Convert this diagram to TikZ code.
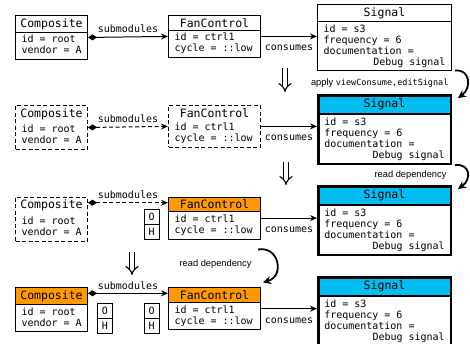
\documentclass[tikz,border=0pt]{standalone}
\usepackage{fontspec}
\setmonofont{DejaVu Sans Mono}
\setsansfont{Liberation Sans}
\usepackage{tikz}
\usetikzlibrary{positioning}
\usetikzlibrary{shapes.multipart}
\usetikzlibrary{arrows.meta}
\definecolor{hotorange}{RGB}{255,153,0}
\definecolor{sigcyan}{RGB}{0,190,240}
\newcommand\monobody{\ttfamily\fontsize{10}{11}\selectfont}
\newcommand\gap{\hspace*{6.02pt}}
\newcommand\boxtitle[1]{\makebox[\linewidth]{\fontsize{11.5}{12}\selectfont #1}}
\newcommand\bodyend{\rule[-2.6pt]{0pt}{2.6pt}}
\newcommand\sigbody{id\gap=\gap s3\\frequency\gap=\gap 6\\documentation\gap=\\\makebox[\linewidth][r]{Debug\gap signal}}
\newcommand\compbody{id\gap=\gap root\\vendor\gap=\gap A\bodyend}
\newcommand\fanbody{id\gap=\gap ctrl1\\cycle\gap=\gap ::low\bodyend}
\begin{document}
\begin{tikzpicture}[x=1pt, y=-1pt,
            classbox/.style={rectangle split, rectangle split parts=2, draw, line width=1pt,
                             inner xsep=6pt, inner ysep=2.4pt, anchor=north west, font=\monobody},
            ghostbox/.style={classbox, dash pattern=on 4pt off 2.5pt, rectangle split draw splits=false},
            hotbox/.style={classbox, rectangle split part fill={hotorange,white}},
            sigbox/.style={classbox, line width=2.5pt, rectangle split part fill={sigcyan,white}},
            flag/.style={draw, line width=1pt, minimum width=15.5pt, minimum height=15pt,
                         inner sep=0pt, font=\monobody},
            lbl/.style={font=\monobody},
            note/.style={font=\sffamily\fontsize{9.3}{10}\selectfont},
            owns/.style={{Diamond[length=9pt,width=6pt]}-{Stealth[length=7pt,width=6pt]}, line width=1pt},
            uses/.style={-{Stealth[length=7pt,width=6pt]}, line width=1pt},
            hop/.style={line width=1.8pt, -{Stealth[length=8pt,width=8pt]}},
            nextstate/.style={double, double distance=3.5pt, line width=1.1pt, -{Implies}}
        ]
        \useasboundingbox (0,0) rectangle (470,343);

        \node[classbox, text width=60pt] (comp1) at (15,15) {\boxtitle{Composite}\nodepart{two}\compbody};
        \node[classbox, text width=80pt] (fan1) at (168,15) {\boxtitle{FanControl}\nodepart{two}\fanbody};
        \node[classbox, text width=122pt] (sig1) at (317,4) {\boxtitle{Signal}\nodepart{two}\sigbody};
        \draw[owns] (comp1.east) -- node[lbl, above] {submodules} (fan1.west);
        \draw[uses] (fan1.east) -- node[lbl, below=5pt] {consumes} (fan1.east -| sig1.west);

        \node[ghostbox, text width=60pt] (comp2) at (15,105) {\boxtitle{Composite}\nodepart{two}\compbody};
        \node[ghostbox, text width=80pt] (fan2) at (168,105) {\boxtitle{FanControl}\nodepart{two}\fanbody};
        \node[sigbox, text width=120.5pt] (sig2) at (317,94) {\boxtitle{Signal}\nodepart{two}\sigbody};
        \draw[owns, dash pattern=on 4pt off 2.5pt] (comp2.east) -- node[lbl, above] {submodules} (fan2.west);
        \draw[uses] (fan2.east) -- node[lbl, below=5pt] {consumes} (fan2.east -| sig2.west);

        \node[ghostbox, text width=60pt] (comp3) at (15,196.7) {\boxtitle{Composite}\nodepart{two}\compbody};
        \node[hotbox, text width=80pt] (fan3) at (168,196.7) {\boxtitle{FanControl}\nodepart{two}\fanbody};
        \node[sigbox, text width=120.5pt] (sig3) at (317,185) {\boxtitle{Signal}\nodepart{two}\sigbody};
        \node[flag, anchor=north east] (o3) at ([xshift=-8pt, yshift=-12.6pt]fan3.north west) {O};
        \node[flag, below=-1pt of o3] (h3) {H};
        \draw[owns, dash pattern=on 4pt off 2.5pt] ([yshift=-6pt]comp3.north east) -- node[lbl, above] {submodules} ([yshift=-6pt]fan3.north west);
        \draw[uses] (fan3.east) -- node[lbl, below=5pt] {consumes} (fan3.east -| sig3.west);

        \node[hotbox, text width=60pt] (comp4) at (15,287.3) {\boxtitle{Composite}\nodepart{two}\compbody};
        \node[hotbox, text width=80pt] (fan4) at (168,287.3) {\boxtitle{FanControl}\nodepart{two}\fanbody};
        \node[sigbox, text width=120.5pt] (sig4) at (317,276) {\boxtitle{Signal}\nodepart{two}\sigbody};
        \node[flag, anchor=north west] (o4a) at ([xshift=8.7pt, yshift=-16pt]comp4.north east) {O};
        \node[flag, below=-1pt of o4a] (h4a) {H};
        \node[flag, anchor=north east] (o4b) at ([xshift=-8pt, yshift=-16pt]fan4.north west) {O};
        \node[flag, below=-1pt of o4b] (h4b) {H};
        \draw[owns] ([yshift=-6pt]comp4.north east) -- node[lbl, above] {submodules} ([yshift=-6pt]fan4.north west);
        \draw[uses] (fan4.east) -- node[lbl, below=5pt] {consumes} (fan4.east -| sig4.west);

        \node[note, anchor=east] (hint1) at ([yshift=-12pt]sig1.south east) {apply {\ttfamily\fontsize{8.5}{10}\selectfont viewConsume,editSignal}};
        \node[note, anchor=east] (hint2) at ([xshift=-2pt, yshift=-10pt]sig2.south east) {read dependency};
        \node[note, anchor=east] (hint3) at ([xshift=-6pt, yshift=-25pt]fan3.south east) {read dependency};
        \draw[hop] ([xshift=3pt]sig1.south east) .. controls +(15,-2) and +(14,-10) .. ([xshift=6pt, yshift=-4pt]sig2.north east);
        \draw[hop] ([xshift=3pt]sig2.south east) .. controls +(15,-2) and +(14,-10) .. ([xshift=6pt, yshift=-4pt]sig3.north east);
        \draw[hop] ([xshift=-3pt, yshift=-10pt]fan3.south east) .. controls +(21,-4) and +(22,-6) .. ([xshift=2pt, yshift=5pt]fan4.north east);

        \coordinate (s1) at (285,68);
        \coordinate (t1) at (285,92);
        \coordinate (s2) at (286,162);
        \coordinate (t2) at (286,185);
        \coordinate (s3) at (132,252);
        \coordinate (t3) at (132,275);
        \draw[nextstate] (s1) -- (t1);
        \draw[nextstate] (s2) -- (t2);
        \draw[nextstate] (s3) -- (t3);
        \end{tikzpicture}
\end{document}
